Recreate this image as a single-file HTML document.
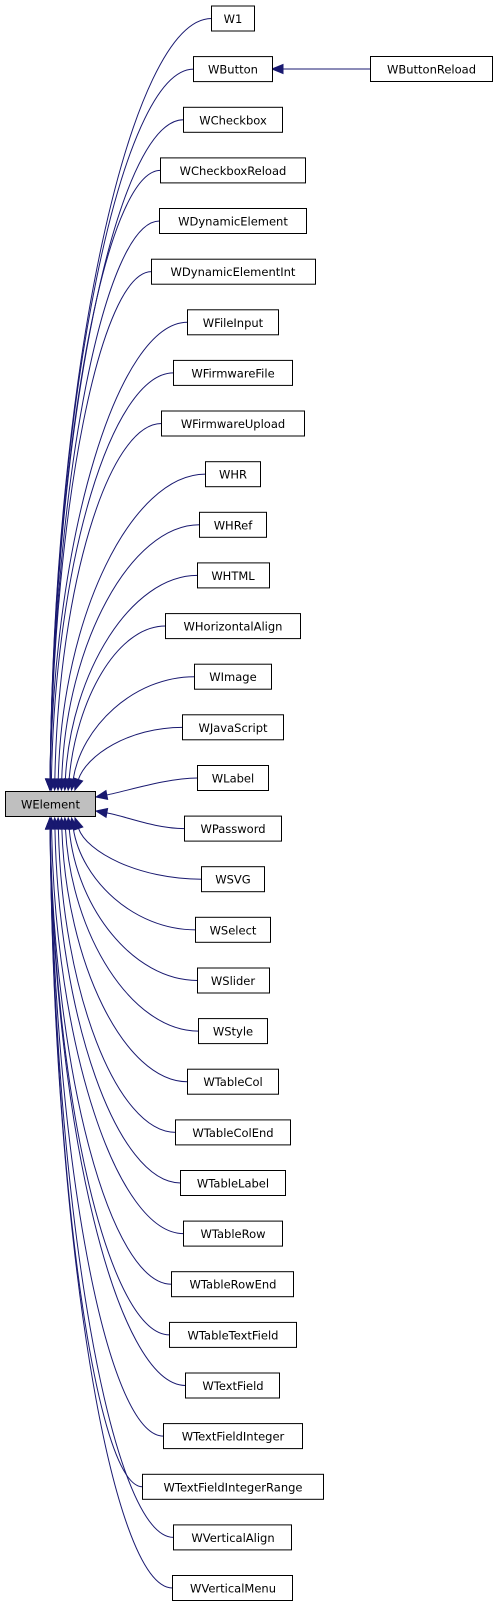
<!DOCTYPE html>
<html><head><meta charset="utf-8"><style>
html,body{margin:0;padding:0;background:#fff;width:499px;height:1608px;overflow:hidden}
svg{display:block}
text{font-family:"DejaVu Sans","Liberation Sans",sans-serif;font-size:11.5px;fill:#000}
</style></head><body>
<svg id="g" width="499" height="1608" viewBox="0 0 499 1608" xmlns="http://www.w3.org/2000/svg">
<g id="edges" fill="none" stroke="#191970" stroke-width="1"></g>
<g id="heads" fill="#191970" stroke="#191970"></g>
<line x1="370" y1="69" x2="282" y2="69" stroke="#191970"/>
<polygon points="272,69 283,64.5 283,73.5" fill="#191970" stroke="#191970"/>
<rect x="5.5" y="791.5" width="90" height="25" fill="#bfbfbf" stroke="#000"/>
<text x="50.5" y="808.5" text-anchor="middle">WElement</text>
<rect x="370.5" y="56.5" width="122" height="25" fill="#fff" stroke="#000"/>
<text x="431.5" y="73.5" text-anchor="middle">WButtonReload</text>
<g id="nodes">
<rect x="211.5" y="6" width="43" height="25" fill="#fff" stroke="#000"/><text x="233" y="23" text-anchor="middle">W1</text>
<rect x="193.5" y="56.6" width="79" height="25" fill="#fff" stroke="#000"/><text x="233" y="73.6" text-anchor="middle">WButton</text>
<rect x="183.5" y="107.3" width="99" height="25" fill="#fff" stroke="#000"/><text x="233" y="124.3" text-anchor="middle">WCheckbox</text>
<rect x="160.5" y="157.9" width="145" height="25" fill="#fff" stroke="#000"/><text x="233" y="174.9" text-anchor="middle">WCheckboxReload</text>
<rect x="159.5" y="208.5" width="147" height="25" fill="#fff" stroke="#000"/><text x="233" y="225.5" text-anchor="middle">WDynamicElement</text>
<rect x="151.5" y="259.2" width="164" height="25" fill="#fff" stroke="#000"/><text x="233" y="276.2" text-anchor="middle">WDynamicElementInt</text>
<rect x="187.5" y="309.8" width="91" height="25" fill="#fff" stroke="#000"/><text x="233" y="326.8" text-anchor="middle">WFileInput</text>
<rect x="173.5" y="360.4" width="119" height="25" fill="#fff" stroke="#000"/><text x="233" y="377.4" text-anchor="middle">WFirmwareFile</text>
<rect x="161.5" y="411" width="143" height="25" fill="#fff" stroke="#000"/><text x="233" y="428" text-anchor="middle">WFirmwareUpload</text>
<rect x="205.5" y="461.7" width="55" height="25" fill="#fff" stroke="#000"/><text x="233" y="478.7" text-anchor="middle">WHR</text>
<rect x="199.5" y="512.3" width="67" height="25" fill="#fff" stroke="#000"/><text x="233" y="529.3" text-anchor="middle">WHRef</text>
<rect x="197.5" y="562.9" width="72" height="25" fill="#fff" stroke="#000"/><text x="233" y="579.9" text-anchor="middle">WHTML</text>
<rect x="165.5" y="613.6" width="135" height="25" fill="#fff" stroke="#000"/><text x="233" y="630.6" text-anchor="middle">WHorizontalAlign</text>
<rect x="194.5" y="664.2" width="77" height="25" fill="#fff" stroke="#000"/><text x="233" y="681.2" text-anchor="middle">WImage</text>
<rect x="182.5" y="714.8" width="101" height="25" fill="#fff" stroke="#000"/><text x="233" y="731.8" text-anchor="middle">WJavaScript</text>
<rect x="197.5" y="765.5" width="71" height="25" fill="#fff" stroke="#000"/><text x="233" y="782.5" text-anchor="middle">WLabel</text>
<rect x="184.5" y="816.1" width="97" height="25" fill="#fff" stroke="#000"/><text x="233" y="833.1" text-anchor="middle">WPassword</text>
<rect x="201.5" y="866.7" width="63" height="25" fill="#fff" stroke="#000"/><text x="233" y="883.7" text-anchor="middle">WSVG</text>
<rect x="195.5" y="917.3" width="75" height="25" fill="#fff" stroke="#000"/><text x="233" y="934.3" text-anchor="middle">WSelect</text>
<rect x="197.5" y="968" width="72" height="25" fill="#fff" stroke="#000"/><text x="233" y="985" text-anchor="middle">WSlider</text>
<rect x="198.5" y="1018.6" width="69" height="25" fill="#fff" stroke="#000"/><text x="233" y="1035.6" text-anchor="middle">WStyle</text>
<rect x="187.5" y="1069.2" width="91" height="25" fill="#fff" stroke="#000"/><text x="233" y="1086.2" text-anchor="middle">WTableCol</text>
<rect x="175.5" y="1119.9" width="115" height="25" fill="#fff" stroke="#000"/><text x="233" y="1136.9" text-anchor="middle">WTableColEnd</text>
<rect x="180.5" y="1170.5" width="105" height="25" fill="#fff" stroke="#000"/><text x="233" y="1187.5" text-anchor="middle">WTableLabel</text>
<rect x="183.5" y="1221.1" width="99" height="25" fill="#fff" stroke="#000"/><text x="233" y="1238.1" text-anchor="middle">WTableRow</text>
<rect x="171.5" y="1271.7" width="122" height="25" fill="#fff" stroke="#000"/><text x="233" y="1288.7" text-anchor="middle">WTableRowEnd</text>
<rect x="169.5" y="1322.4" width="127" height="25" fill="#fff" stroke="#000"/><text x="233" y="1339.4" text-anchor="middle">WTableTextField</text>
<rect x="185.5" y="1373" width="94" height="25" fill="#fff" stroke="#000"/><text x="233" y="1390" text-anchor="middle">WTextField</text>
<rect x="163.5" y="1423.6" width="139" height="25" fill="#fff" stroke="#000"/><text x="233" y="1440.6" text-anchor="middle">WTextFieldInteger</text>
<rect x="142.5" y="1474.3" width="181" height="25" fill="#fff" stroke="#000"/><text x="233" y="1491.3" text-anchor="middle">WTextFieldIntegerRange</text>
<rect x="173.5" y="1524.9" width="118" height="25" fill="#fff" stroke="#000"/><text x="233" y="1541.9" text-anchor="middle">WVerticalAlign</text>
<rect x="172.5" y="1575.5" width="120" height="25" fill="#fff" stroke="#000"/><text x="233" y="1592.5" text-anchor="middle">WVerticalMenu</text>
</g>
</svg>
<script>
(function(){
var xs=[211,193,183,160,159,151,187,173,161,205,199,197,165,194,182,197,184,201,195,197,198,187,175,180,183,171,169,185,163,142,173,172];
var E=document.getElementById('edges'),H=document.getElementById('heads'),ns='http://www.w3.org/2000/svg';
for(var i=0;i<xs.length;i++){
 var y=18.5+50.63*i,x0=xs[i]+0.5,dy=y-804,tx,ty,c1x,c1y,c2x,c2y;
 if(Math.abs(dy)<40){tx=96;ty=dy<0?797:811;c1x=x0-30;c1y=y;c2x=tx+30;c2y=ty+(y-ty)*0.3;}
 else{
  var a=Math.abs(dy);tx=50+30*Math.max(0,1-a/450);ty=dy<0?790:818;
  c1x=x0-0.5*(x0-tx);c1y=y;c2x=tx+4+10*Math.max(0,1-a/300);c2y=ty+(y-ty)*0.55;
 }
 var vx=tx-c2x,vy=ty-c2y,l=Math.sqrt(vx*vx+vy*vy);vx/=l;vy/=l;
 var bx=tx-vx*11,by=ty-vy*11,px=-vy*4.5,py=vx*4.5;
 var p=document.createElementNS(ns,'path');
 p.setAttribute('d','M'+x0+','+y+' C'+c1x+','+c1y+' '+c2x+','+c2y+' '+bx+','+by);
 E.appendChild(p);
 var g=document.createElementNS(ns,'polygon');
 g.setAttribute('points',tx+','+ty+' '+(bx+px)+','+(by+py)+' '+(bx-px)+','+(by-py));
 H.appendChild(g);
}
})();
</script>
</body></html>
